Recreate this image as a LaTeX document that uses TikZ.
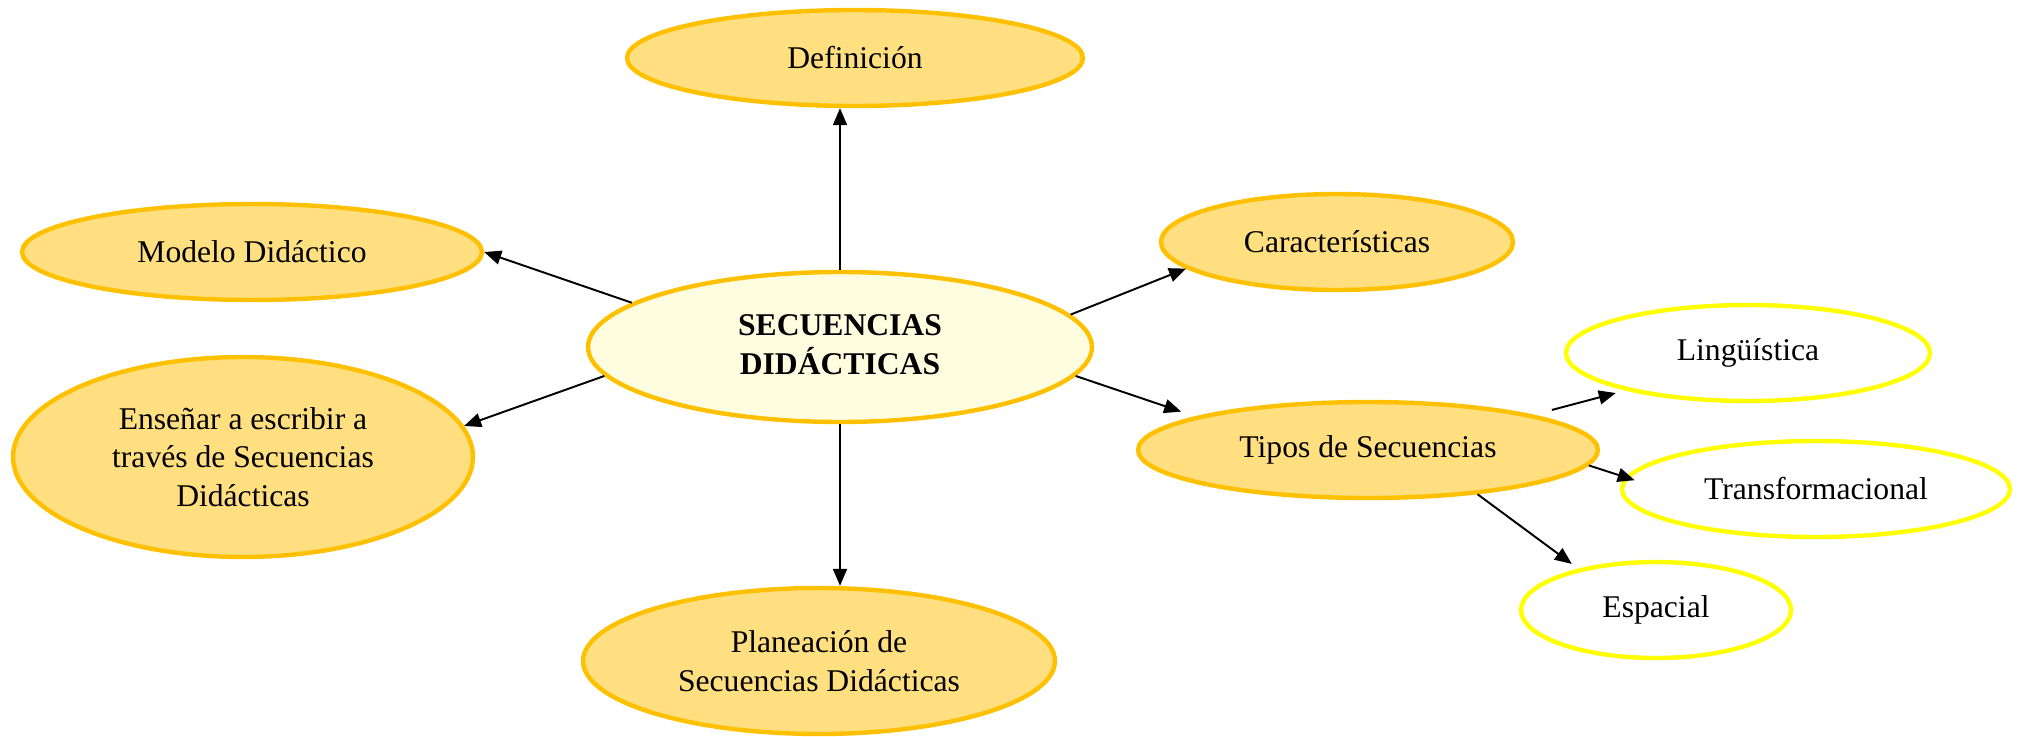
\documentclass[tikz,border=0pt]{standalone}
\usepackage{fontspec}
\setmainfont{Liberation Serif}
\usetikzlibrary{shapes.geometric,arrows.meta}
\definecolor{gold}{HTML}{FFC000}
\definecolor{goldfill}{HTML}{FFDF7F}
\definecolor{cream}{HTML}{FFFDE0}
\definecolor{yel}{HTML}{FFFF00}
\tikzset{
  oval/.style={ellipse, inner sep=0pt, align=center, font=\fontsize{18}{22}\selectfont},
  goldoval/.style={oval, draw=gold, fill=goldfill, line width=2.5pt},
  yeloval/.style={oval, draw=yel, fill=white, line width=2.5pt},
  conn/.style={-{Triangle[length=0.34cm,width=0.28cm]}, line width=1.1pt, black},
}
\begin{document}
\begin{tikzpicture}[x=0.02cm,y=-0.02cm]
\useasboundingbox (0,0) rectangle (2022,737);
\node[goldoval, fill=cream, minimum width=10.08cm, minimum height=3cm, font=\fontsize{18}{22}\selectfont\bfseries] (C) at (840,347) {\raisebox{4pt}{\begin{tabular}{@{}c@{}}SECUENCIAS\\DIDÁCTICAS\end{tabular}}};
\node[goldoval, minimum width=9.12cm, minimum height=1.92cm] (D) at (855,58) {Definición};
\node[goldoval, minimum width=9.2cm, minimum height=1.92cm] (M) at (252,252) {Modelo Didáctico};
\node[goldoval, minimum width=9.2cm, minimum height=4cm] (E) at (243,457) {Enseñar a escribir a\\través de Secuencias\\Didácticas};
\node[goldoval, minimum width=9.44cm, minimum height=2.92cm] (P) at (819,661) {Planeación de\\Secuencias Didácticas};
\node[goldoval, minimum width=7.04cm, minimum height=1.92cm] (K) at (1337,242) {Características};
\node[goldoval, minimum width=9.2cm, minimum height=1.92cm] (T) at (1368,450) {Tipos de Secuencias};
\node[yeloval, minimum width=7.28cm, minimum height=1.92cm] (L) at (1748,353) {Lingüística};
\node[yeloval, minimum width=7.76cm, minimum height=1.92cm] (R) at (1816,489) {Transformacional};
\node[yeloval, minimum width=5.4cm, minimum height=1.92cm] (S) at (1656,610) {Espacial};

\draw[conn] (C.north) -- (C.north |- D.south);
\draw[conn] (C.168.6) -- (M.east);
\draw[conn] (C.187.4) -- (E.8);
\draw[conn] (C.south) -- (C.south |- P.north);
\draw[conn] (C.8.4) -- (K.190);
\draw[conn, shorten >=0.3cm] (C.353.3) -- (T.169.7);
\draw[conn, shorten <=0.38cm, shorten >=0.2cm] (T.12.4) -- (L.197.6);
\draw[conn] (T.356.4) -- ([shift={(13,-2)}]R.178);
\draw[conn, shorten >=0.16cm] (T.338.1) -- (S.152.6);
\end{tikzpicture}
\end{document}
